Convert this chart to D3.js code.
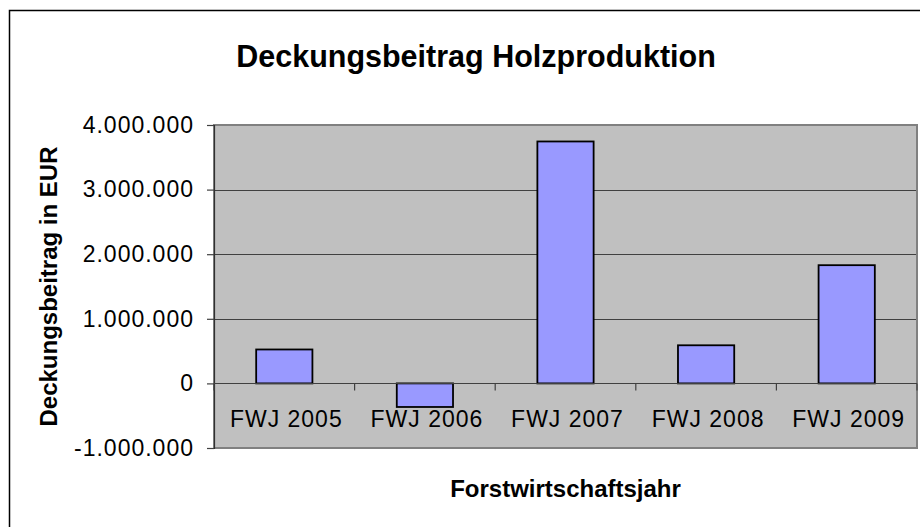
<!DOCTYPE html>
<html>
<head>
<meta charset="utf-8">
<script src="https://cdn.jsdelivr.net/npm/d3@7"></script>
<style>
	body { margin: 0; background: #fff; }
	text { font-family: "Liberation Sans", Arial, sans-serif; fill: #000; }
</style>
</head>
<body>
<script>
// chart data
var categories = ["FWJ 2005", "FWJ 2006", "FWJ 2007", "FWJ 2008", "FWJ 2009"];
var values = [525000, -365000, 3745000, 590000, 1830000];
var yTicks = [-1000000, 0, 1000000, 2000000, 3000000, 4000000];

var title = "Deckungsbeitrag Holzproduktion";
var xTitle = "Forstwirtschaftsjahr";
var yTitle = "Deckungsbeitrag in EUR";

// plot area inside the chart
var plot = {left: 214, top: 125, right: 917, bottom: 448};

var svg = d3.select("body")
	.append("svg")
	.attr("width", 920)
	.attr("height", 527);

// german number format 4.000.000
var de = d3.formatLocale({decimal: ",", thousands: ".", grouping: [3], currency: ["", " €"], minus: "-"});
var fmt = de.format(",.0f");

var x = d3.scaleBand()
	.domain(categories)
	.range([plot.left, plot.right])
	.paddingInner(0.6)
	.paddingOuter(0.3);

var y = d3.scaleLinear()
	.domain([d3.min(yTicks), d3.max(yTicks)])
	.range([plot.bottom, plot.top]);

// outer chart frame (runs past the window)
svg.append("rect")
	.attr("x", 9.5)
	.attr("y", 10.5)
	.attr("width", 1000)
	.attr("height", 1000)
	.attr("fill", "none")
	.attr("stroke", "#000")
	.attr("stroke-width", 1.5);

// plot background
svg.append("rect")
	.attr("x", plot.left)
	.attr("y", plot.top)
	.attr("width", plot.right - plot.left)
	.attr("height", plot.bottom - plot.top)
	.attr("fill", "#c0c0c0");

// gridlines
svg.append("g")
	.selectAll("line")
	.data(yTicks.filter((d) => d != 0 && d != d3.max(yTicks) && d != d3.min(yTicks)))
	.enter()
	.append("line")
	.attr("x1", plot.left)
	.attr("x2", plot.right)
	.attr("y1", (d) => Math.round(y(d)) + 0.5)
	.attr("y2", (d) => Math.round(y(d)) + 0.5)
	.attr("stroke", "#404040")
	.attr("stroke-width", 1.2);

// plot border
svg.append("rect")
	.attr("x", plot.left)
	.attr("y", plot.top)
	.attr("width", plot.right - plot.left)
	.attr("height", plot.bottom - plot.top)
	.attr("fill", "none")
	.attr("stroke", "#808080")
	.attr("stroke-width", 2);

// bars
svg.append("g")
	.selectAll("rect")
	.data(values)
	.enter()
	.append("rect")
	.attr("x", (d, i) => x(categories[i]))
	.attr("width", x.bandwidth())
	.attr("y", (d) => y(Math.max(0, d)))
	.attr("height", (d) => Math.abs(y(d) - y(0)))
	.attr("fill", "#9999ff")
	.attr("stroke", "#000")
	.attr("stroke-width", 1.8);

// y axis
var yAxis = svg.append("g")
	.attr("transform", "translate(" + plot.left + ",0)")
	.call(d3.axisLeft(y).tickValues(yTicks).tickFormat(fmt).tickSize(7).tickPadding(13));

yAxis.select(".domain").attr("stroke", "#303030").attr("stroke-width", 1.2);
yAxis.selectAll(".tick line").attr("stroke", "#404040").attr("stroke-width", 1.2);
yAxis.selectAll(".tick text")
	.attr("font-size", "23px")
	.attr("letter-spacing", "1px")
	.attr("font-family", "'Liberation Sans', Arial, sans-serif")
	.attr("fill", "#000");

// x axis sitting on the zero line, ticks between categories
var zero = Math.round(y(0)) + 0.5;
svg.append("line")
	.attr("x1", plot.left)
	.attr("x2", plot.right)
	.attr("y1", zero)
	.attr("y2", zero)
	.attr("stroke", "#404040")
	.attr("stroke-width", 1.2);

var bounds = categories.map((c, i) => plot.left + i * x.step()).concat([plot.right]);

svg.append("g")
	.selectAll("line")
	.data(bounds)
	.enter()
	.append("line")
	.attr("x1", (d) => d)
	.attr("x2", (d) => d)
	.attr("y1", zero)
	.attr("y2", zero + 7)
	.attr("stroke", "#404040")
	.attr("stroke-width", 1.2);

svg.append("g")
	.selectAll("text")
	.data(categories)
	.enter()
	.append("text")
	.attr("x", (d) => x(d) + x.bandwidth() / 2 + 2)
	.attr("y", zero + 43)
	.attr("text-anchor", "middle")
	.attr("font-size", "23px")
	.attr("letter-spacing", "1px")
	.text((d) => d);

// titles
svg.append("text")
	.attr("x", 476)
	.attr("y", 67)
	.attr("text-anchor", "middle")
	.attr("font-size", "30.5px")
	.attr("font-weight", "bold")
	.text(title);

svg.append("text")
	.attr("x", (plot.left + plot.right) / 2)
	.attr("y", 497)
	.attr("text-anchor", "middle")
	.attr("font-size", "24px")
	.attr("font-weight", "bold")
	.text(xTitle);

svg.append("text")
	.attr("transform", "translate(57," + ((plot.top + plot.bottom) / 2) + ") rotate(-90)")
	.attr("text-anchor", "middle")
	.attr("font-size", "24px")
	.attr("font-weight", "bold")
	.text(yTitle);
</script>
</body>
</html>
